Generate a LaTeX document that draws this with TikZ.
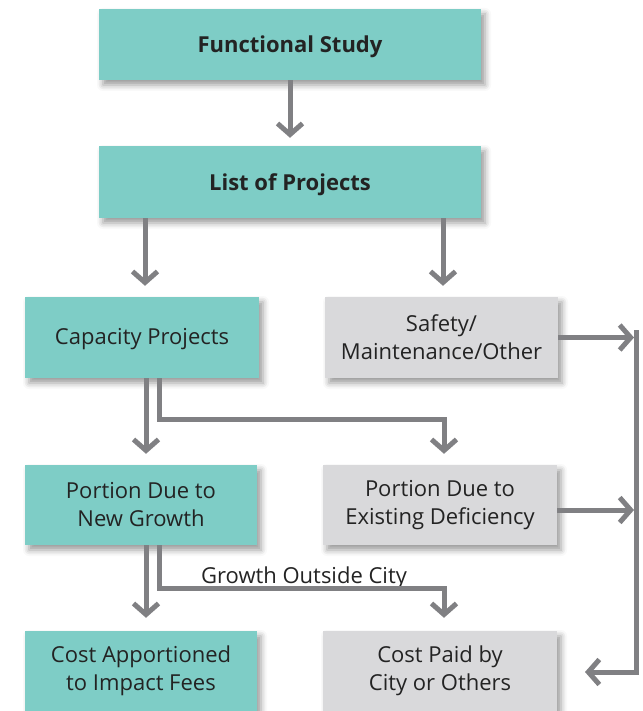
\documentclass[tikz,border=0pt]{standalone}
\usepackage{fontspec}
\setmainfont{Open Sans}
\usetikzlibrary{arrows.meta,shadows.blur}

\definecolor{boxteal}{RGB}{126,205,198}
\definecolor{boxgray}{RGB}{217,217,219}
\definecolor{flowgray}{RGB}{128,128,131}
\definecolor{textdark}{RGB}{35,35,35}

\tikzset{
  basebox/.style={rectangle, inner sep=0pt, align=center, text=textdark,
    font=\fontsize{22}{28}\selectfont,
    blur shadow={shadow xshift=4pt, shadow yshift=-5pt, shadow blur radius=6pt, shadow opacity=40}},
  tealbox/.style={basebox, fill=boxteal},
  graybox/.style={basebox, fill=boxgray},
  headbox/.style={tealbox, minimum width=382pt, text height=22pt,
    font=\fontsize{22}{28}\selectfont\bfseries},
  flow/.style={draw=flowgray, line width=5pt, shorten >=11pt,
    -{Straight Barb[length=11pt,width=25pt]}},
  flowlabel/.style={text=textdark, font=\fontsize{22}{28}\selectfont, inner sep=0pt}
}

\begin{document}
\begin{tikzpicture}[x=1pt,y=-1pt]
	\useasboundingbox (0,0) rectangle (642,711);
	% boxes
	\node[headbox, minimum height=71pt] (fs) at (290,44.5) {Functional Study};
	\node[headbox, minimum height=72pt] (lp) at (290,182) {List of Projects};
	\node[tealbox, minimum width=234pt, minimum height=81pt, text height=19pt] (cap) at (142,337.5) {Capacity Projects};
	\node[graybox, minimum width=233pt, minimum height=81pt] (saf) at (441.5,337.5) {Safety/\\Maintenance/Other};
	\node[tealbox, minimum width=232pt, minimum height=80pt] (png) at (141,505) {Portion Due to\\New Growth};
	\node[graybox, minimum width=234pt, minimum height=80pt] (ped) at (440,505) {Portion Due to\\Existing Deficiency};
	\node[tealbox, minimum width=232pt, minimum height=80pt] (cai) at (141,671) {Cost Apportioned\\to Impact Fees};
	\node[graybox, minimum width=234pt, minimum height=80pt] (cpc) at (440,671) {Cost Paid by\\City or Others};
	\node[flowlabel, anchor=base] (goc) at (304,583) {Growth Outside City};
	% right-hand return line
	\coordinate (rt) at (636,330);
	\coordinate (rb) at (636,672);
	\coordinate (ret) at (585,672);
	% connectors
	\draw[flow, shorten >=8pt] (fs) -- (lp);
	\draw[flow] ([xshift=-145pt]lp.south) -- ([xshift=-145pt]lp.south |- cap.north);
	\draw[flow] ([xshift=153pt]lp.south) -- ([xshift=153pt]lp.south |- saf.north);
	\draw[flow] ([xshift=4pt]cap.south) -- ([xshift=4pt]cap.south |- png.north);
	\draw[flow] ([xshift=17pt]cap.south) -- ++(0,41) -| ([xshift=4pt]ped.north);
	\draw[flow, shorten >=13pt] ([xshift=5pt]png.south) -- ([xshift=5pt]png.south |- cai.north);
	\draw[flow, shorten >=13pt] ([xshift=18pt]png.south) -- ++(0,43) -| ([xshift=4pt]cpc.north);
	\draw[flow, shorten >=2pt] (saf.east) -- (saf.east -| rt);
	\draw[flow, shorten >=2pt] ([yshift=-5pt]ped.east) -- ([yshift=-5pt]ped.east -| rt);
	\draw[flow, shorten >=0pt] (rt) -- (rb) -- (ret);
\end{tikzpicture}
\end{document}
